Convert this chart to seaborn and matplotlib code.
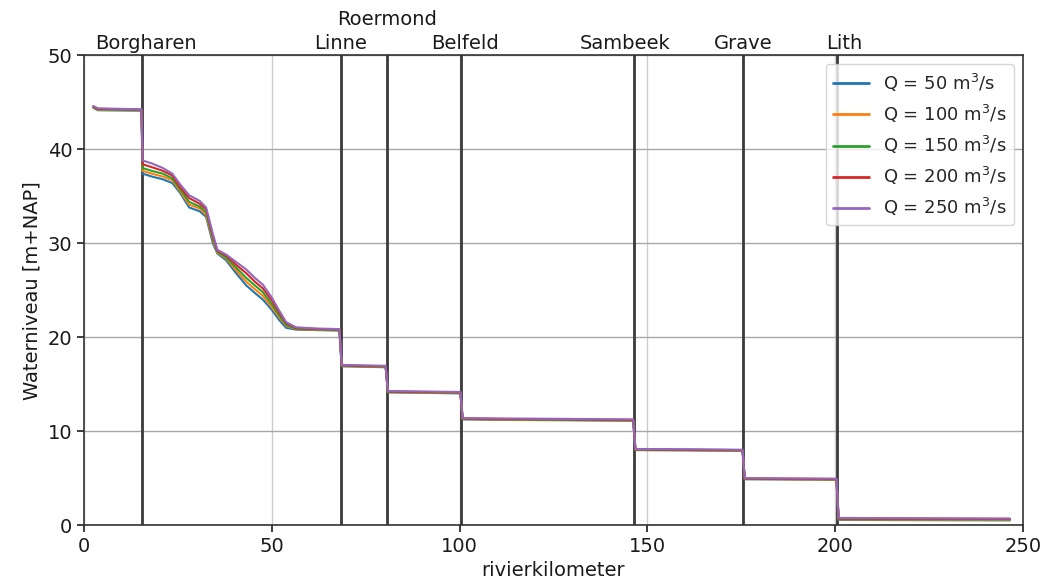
import matplotlib
matplotlib.use("Agg")
import matplotlib.pyplot as plt
import matplotlib.transforms as mtransforms
import seaborn as sns
import pandas as pd

km = [2.5, 3.7, 15.3, 15.6, 18, 21, 23.5, 25.5, 28, 30.8, 32.5, 34.3, 35.5, 37.8,
      40.5, 43.2, 45.5, 47.6, 50, 52, 53.8, 56.4, 62, 68.0, 68.6, 74, 80.3, 80.9,
      90, 100.2, 100.8, 110, 130, 146.2, 146.8, 160, 175.3, 175.9, 188, 200.3,
      200.9, 225, 246.5]

wl_q50 = [44.40, 44.15, 44.10, 37.40, 37.10, 36.80, 36.40, 35.40, 33.80, 33.40,
          32.80, 30.00, 28.90, 28.20, 26.80, 25.50, 24.70, 24.00, 22.90, 21.80,
          21.00, 20.80, 20.75, 20.70, 16.90, 16.85, 16.80, 14.12, 14.07, 14.02,
          11.25, 11.20, 11.15, 11.10, 7.98, 7.95, 7.90, 4.88, 4.85, 4.82,
          0.55, 0.52, 0.50]
wl_q100 = [44.45, 44.20, 44.15, 37.70, 37.40, 37.10, 36.70, 35.60, 34.10, 33.70,
           33.00, 30.30, 29.00, 28.40, 27.10, 25.90, 25.10, 24.40, 23.20, 22.10,
           21.20, 20.85, 20.78, 20.74, 16.93, 16.88, 16.83, 14.15, 14.10, 14.05,
           11.28, 11.23, 11.18, 11.13, 8.00, 7.97, 7.92, 4.90, 4.87, 4.84,
           0.60, 0.57, 0.55]
wl_q150 = [44.50, 44.25, 44.18, 38.00, 37.70, 37.40, 36.90, 35.80, 34.40, 33.90,
           33.30, 30.50, 29.10, 28.50, 27.40, 26.30, 25.50, 24.80, 23.50, 22.30,
           21.30, 20.90, 20.82, 20.78, 16.96, 16.91, 16.86, 14.18, 14.13, 14.08,
           11.31, 11.26, 11.21, 11.16, 8.03, 8.00, 7.95, 4.93, 4.90, 4.87,
           0.65, 0.62, 0.60]
wl_q200 = [44.55, 44.30, 44.22, 38.40, 38.10, 37.70, 37.20, 36.00, 34.80, 34.20,
           33.60, 30.80, 29.20, 28.70, 27.70, 26.80, 25.90, 25.20, 23.90, 22.60,
           21.50, 20.98, 20.87, 20.82, 17.00, 16.95, 16.90, 14.22, 14.17, 14.12,
           11.35, 11.30, 11.25, 11.20, 8.06, 8.03, 7.98, 4.96, 4.93, 4.90,
           0.70, 0.67, 0.65]
wl_q250 = [44.60, 44.35, 44.25, 38.80, 38.50, 38.00, 37.40, 36.30, 35.10, 34.50,
           33.80, 31.00, 29.30, 28.80, 28.00, 27.20, 26.30, 25.60, 24.20, 22.80,
           21.60, 21.05, 20.92, 20.86, 17.05, 17.00, 16.95, 14.27, 14.22, 14.17,
           11.40, 11.35, 11.30, 11.25, 8.10, 8.07, 8.02, 5.00, 4.97, 4.94,
           0.76, 0.73, 0.70]

discharges = [50, 100, 150, 200, 250]
series = [wl_q50, wl_q100, wl_q150, wl_q200, wl_q250]

weir_names = ["Borgharen", "Linne", "Roermond", "Belfeld", "Sambeek", "Grave", "Lith"]
weir_km = [15.4, 68.3, 80.6, 100.4, 146.4, 175.5, 200.5]
weir_label_km = [16.5, 68.3, 80.6, 101.5, 144.0, 175.5, 202.5]

rows = []
for q, wl in zip(discharges, series):
    label = r"Q = %d m$^3$/s" % q
    for x, y in zip(km, wl):
        rows.append({"km": x, "wl": y, "Q": label})
df = pd.DataFrame(rows)

sns.set_style("white")
plt.rcParams["font.family"] = ["DejaVu Sans"]

fig = plt.figure(figsize=(10.54, 5.88), dpi=100)
ax = fig.add_axes([0.0797, 0.107, 0.891, 0.799])

ax.grid(True, axis="x", color="#cccccc", linewidth=1.0)
ax.grid(True, axis="y", color="#a8a8a8", linewidth=1.0)
ax.set_axisbelow(True)

for xk in weir_km:
    ax.axvline(xk, color="#3a3a3a", linewidth=2.0, zorder=1)

palette = sns.color_palette("tab10", 5)
sns.lineplot(data=df, x="km", y="wl", hue="Q", palette=palette, linewidth=1.5,
             ax=ax, zorder=3, estimator=None, sort=True)

ax.set_xlim(0, 250)
ax.set_ylim(0, 50)
ax.set_xticks([0, 50, 100, 150, 200, 250])
ax.set_yticks([0, 10, 20, 30, 40, 50])
ax.tick_params(axis="both", labelsize=14, direction="out", length=5, width=1.2,
               bottom=True, left=True, colors="#1a1a1a")
for sp in ax.spines.values():
    sp.set_color("#333333")
    sp.set_linewidth(1.2)

ax.set_xlabel("rivierkilometer", fontsize=14, color="#1a1a1a")
ax.set_ylabel("Waterniveau [m+NAP]", fontsize=14, color="#1a1a1a")

trans = mtransforms.blended_transform_factory(ax.transData, ax.transAxes)
for name, xk in zip(weir_names, weir_label_km):
    yy = 1.055 if name == "Roermond" else 1.005
    ax.text(xk, yy, name, transform=trans, ha="center", va="bottom",
            fontsize=14, color="#1a1a1a")

leg = ax.legend(loc="upper right", fontsize=13, frameon=True, framealpha=0.8,
                edgecolor="#cccccc", handlelength=2.0)
leg.set_title(None)
for line in leg.get_lines():
    line.set_linewidth(2.0)

fig.savefig("out.png", dpi=100)
